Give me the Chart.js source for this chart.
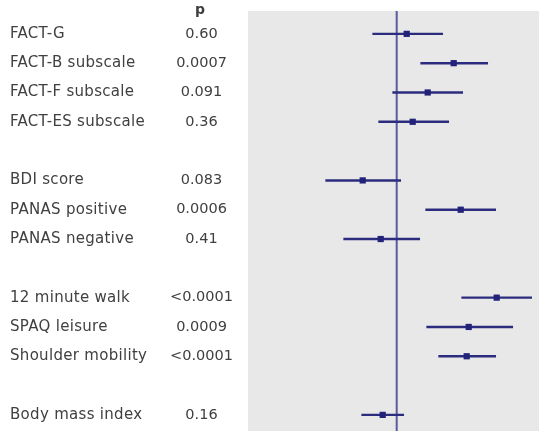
<!DOCTYPE html>
<html><head><meta charset="utf-8">
<script src="https://cdn.jsdelivr.net/npm/chart.js@4"></script>
<style>html,body{margin:0;padding:0;background:#fff}canvas{display:block}</style>
</head><body>
<canvas id="c" width="539" height="431"></canvas>
<script>
// Row labels (null = blank spacer row)
const rows = ["FACT-G","FACT-B subscale","FACT-F subscale","FACT-ES subscale",null,
  "BDI score","PANAS positive","PANAS negative",null,
  "12 minute walk","SPAQ leisure","Shoulder mobility",null,
  "Body mass index"];
const pValues = ["0.60","0.0007","0.091","0.36",null,
  "0.083","0.0006","0.41",null,
  "<0.0001","0.0009","<0.0001",null,
  "0.16"];
// effect estimates and 95% CI (null for spacer rows)
const est = [0.10,0.57,0.31,0.16,null,-0.34,0.64,-0.16,null,1.00,0.72,0.70,null,-0.14];
const lo  = [-0.24,0.24,-0.04,-0.18,null,-0.71,0.29,-0.53,null,0.65,0.30,0.42,null,-0.35];
const hi  = [0.46,0.91,0.66,0.52,null,0.04,0.99,0.23,null,1.35,1.16,0.99,null,0.07];
const nullValue = 0;

const ciData = [], ptData = [];
rows.forEach((r,i)=>{ if(r!==null){ ciData.push({x:[lo[i],hi[i]], y:i}); ptData.push({x:est[i], y:i}); } });

const LABEL_FONT = '15px "DejaVu Sans", sans-serif';
const NUM_FONT = '14.5px "DejaVu Sans", sans-serif';
const panelPlugin = {
  id:'panel',
  beforeDraw(chart){
    const {ctx, chartArea:a} = chart;
    ctx.save(); ctx.fillStyle='#e8e8e8';
    ctx.fillRect(a.left,a.top,a.right-a.left,a.bottom-a.top);
    ctx.restore();
  },
  beforeDatasetsDraw(chart){
    const {ctx, chartArea:a, scales:{x}} = chart;
    const px = x.getPixelForValue(nullValue);
    ctx.save(); ctx.strokeStyle='#5a5a9c'; ctx.lineWidth=2;
    ctx.beginPath(); ctx.moveTo(px,a.top); ctx.lineTo(px,a.bottom); ctx.stroke();
    ctx.restore();
  },
  afterDraw(chart){
    const {ctx, scales:{y}} = chart;
    ctx.save();
    ctx.fillStyle='#404040';
    ctx.textBaseline='middle';
    rows.forEach((r,i)=>{
      if(r===null) return;
      const py = y.getPixelForValue(i);
      ctx.font=LABEL_FONT;
      ctx.letterSpacing='0.3px';
      ctx.textAlign='left';
      ctx.fillText(r, 10, py);
      ctx.font=NUM_FONT;
      ctx.letterSpacing='0px';
      ctx.textAlign='center';
      ctx.fillText(pValues[i], 201.5, py);
    });
    ctx.font='bold 14px "DejaVu Sans", sans-serif';
    ctx.textAlign='center';
    ctx.textBaseline='alphabetic';
    ctx.fillText('p', 200, 14);
    ctx.restore();
  }
};

new Chart(document.getElementById('c'), {
  type:'bar',
  data:{ datasets:[
    { type:'scatter', data:ptData, pointStyle:'rect', pointRadius:4.4, backgroundColor:'#22227a', borderColor:'#22227a', borderWidth:0, order:0 },
    { type:'bar', data:ciData, indexAxis:'y', barThickness:1.8, backgroundColor:'#2c2c7e', borderWidth:0, order:1 }
  ]},
  options:{
    responsive:false, animation:false, devicePixelRatio:1,
    layout:{ autoPadding:false, padding:{left:248, top:11, right:0, bottom:0} },
    plugins:{ legend:{display:false}, tooltip:{enabled:false} },
    scales:{
      x:{ type:'linear', min:-1.487, max:1.423, display:false, offset:false },
      y:{ type:'linear', min:-0.78, max:13.55, reverse:true, display:false, offset:false }
    }
  },
  plugins:[panelPlugin]
});
</script>
</body></html>
